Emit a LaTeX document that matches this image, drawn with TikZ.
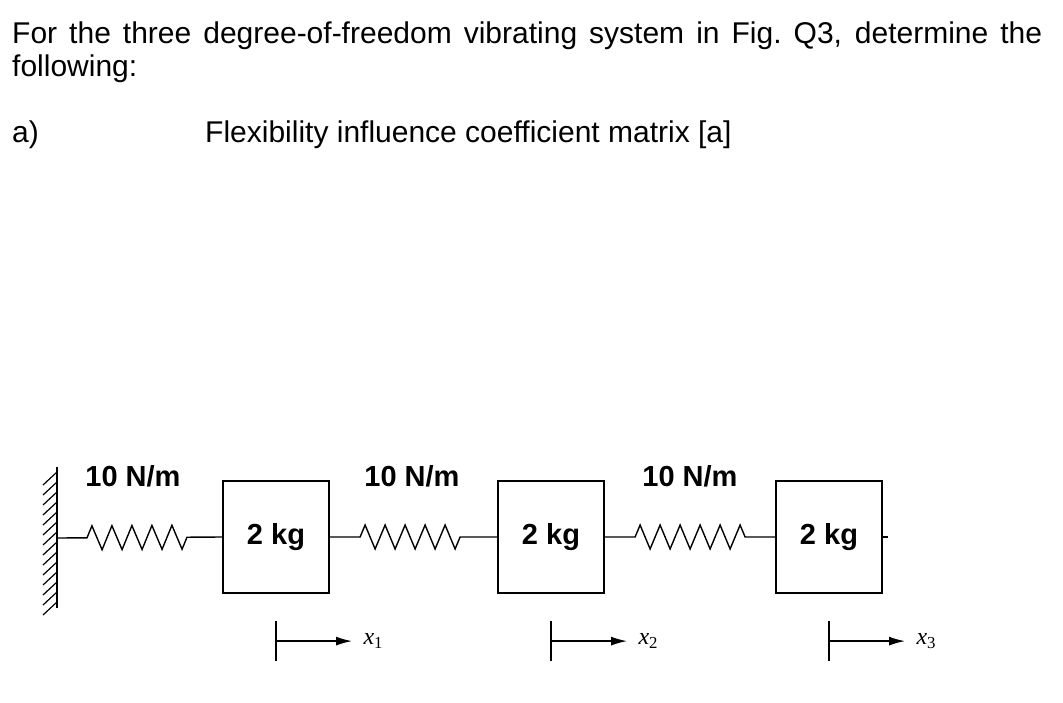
\documentclass[tikz,border=0pt]{standalone}
\usepackage{fontspec}
\setmainfont{Liberation Sans}
\newfontfamily\labelfont{Liberation Serif}
\usetikzlibrary{decorations.pathmorphing,arrows.meta}
\tikzset{
  mass/.style={draw,line width=2.2pt,minimum width=106pt,minimum height=112pt,font=\fontsize{29}{32}\selectfont\bfseries},
  spring/.style={decorate,decoration={zigzag,segment length=20pt,amplitude=12pt,pre length=30pt,post length=28pt},line width=1.4pt},
  rate/.style={font=\fontsize{29}{32}\selectfont\bfseries},
  disp/.style={-{Latex[length=16pt,width=9pt]},line width=1.4pt},
  coord/.style={font=\labelfont\itshape\fontsize{24}{26}\selectfont}
}
\begin{document}
\begin{tikzpicture}[x=1pt,y=-1pt]
	\useasboundingbox (0,0) rectangle (1063,702);
	
	% the question text
	\node[anchor=north west,text width=1030pt,align=justify,inner sep=0pt,font=\fontsize{30}{33}\selectfont] (q) at (12,22)
	{For the three degree-of-freedom vibrating system in Fig.\ Q3, determine the\linebreak following:};
	\node[anchor=west,inner sep=0pt,font=\fontsize{30}{33}\selectfont] (qa) at (12,135) {a)};
	\node[anchor=west,inner sep=0pt,font=\fontsize{30}{33}\selectfont] (qatext) at (205,135) {Flexibility influence coefficient matrix [a]};
	
	% the wall with its hatching
	\draw[line width=2pt] (57,467) -- (57,608);
	\foreach \y in {472,482,...,602}
		\draw[line width=1.2pt] (57,\y) -- (43,\y+13);
	\coordinate (wall) at (57,538);
	
	% the three masses
	\node[mass] (m1) at (276,537) {2 kg};
	\node[mass] (m2) at (551,537) {2 kg};
	\node[mass] (m3) at (829,537) {2 kg};
	\draw[line width=1.4pt] (m3.east) -- ++(5,0);
	
	% the springs between them
	\draw[spring] (wall) -- (m1.west);
	\draw[spring] (m1.east) -- (m2.west);
	\draw[spring] (m2.east) -- (m3.west);
	
	% the spring rates
	\node[rate] (k1) at (133,476) {10 N/m};
	\node[rate] (k2) at (412,476) {10 N/m};
	\node[rate] (k3) at (690,476) {10 N/m};
	
	% the displacement markers
	\foreach \m/\n in {m1/1,m2/2,m3/3}
	{
		\coordinate (s\n) at ([yshift=-47pt]\m.south);
		\draw[line width=1.4pt] ([yshift=-20pt]s\n) -- ([yshift=20pt]s\n);
		\coordinate (e\n) at ([xshift=76pt]s\n);
		\draw[disp] (s\n) -- (e\n);
		\node[coord,anchor=west] (x\n) at ([xshift=8pt]e\n) {x\textsubscript{\upshape\n}};
	}
\end{tikzpicture}
\end{document}
